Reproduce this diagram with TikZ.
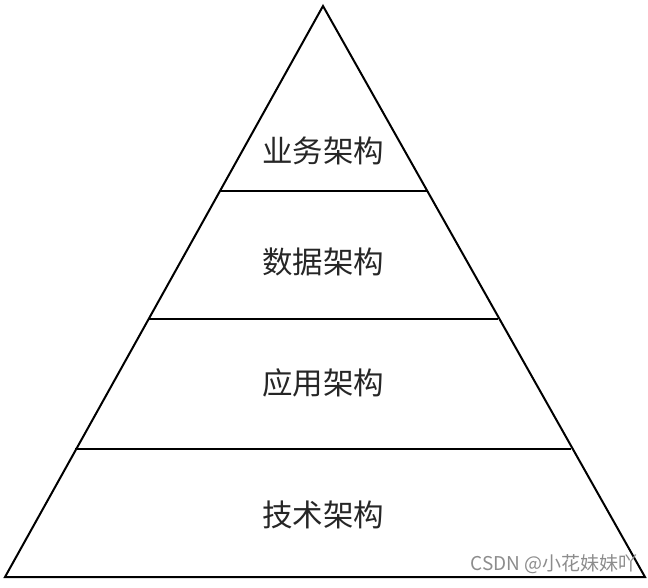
\documentclass[tikz,border=0pt]{standalone}
\usepackage{fontspec}
\newfontfamily\cjk{Noto Sans CJK SC}
\begin{document}
\begin{tikzpicture}[x=1pt,y=-1pt,
  edge/.style={line width=2pt,line join=miter},
  tier/.style={font=\cjk\fontsize{30.5}{33}\selectfont, text=black!85},
  wmark/.style={font=\cjk\fontsize{19}{21}\selectfont, text=black!45, anchor=east}]
\useasboundingbox (0,0) rectangle (648,587);
\coordinate (apex) at (323,6);
\coordinate (bl) at (5,577);
\coordinate (br) at (645,577);
\draw[edge] (apex) -- (br) -- (bl) -- cycle;
\coordinate (l1) at (219.5,191); \coordinate (r1) at (426.5,191);
\coordinate (l2) at (148,319);   \coordinate (r2) at (498,319);
\coordinate (l3) at (75,449);    \coordinate (r3) at (571,449);
\draw[edge] (l1) -- (r1);
\draw[edge] (l2) -- (r2);
\draw[edge] (l3) -- (r3);
\node[tier] (t1) at (323,151) {业务架构};
\node[tier] (t2) at (323,262) {数据架构};
\node[tier] (t3) at (323,383) {应用架构};
\node[tier] (t4) at (323,515) {技术架构};
\node[wmark] (wm) at (641,564) {CSDN @小花妹妹吖};
\end{tikzpicture}
\end{document}
